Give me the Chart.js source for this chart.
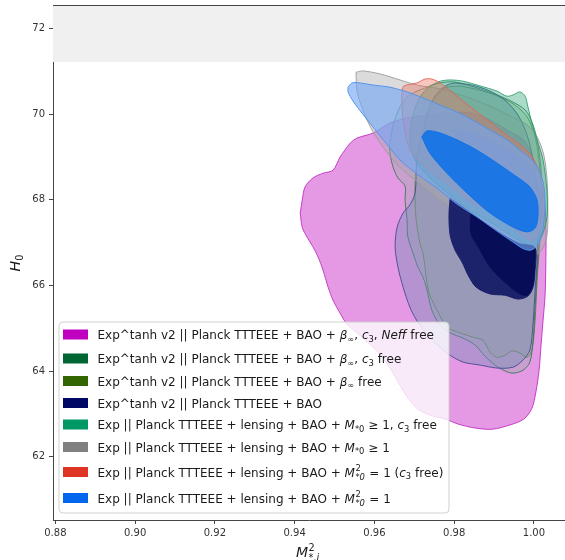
<!DOCTYPE html>
<html>
<head>
<meta charset="utf-8">
<script src="https://cdn.jsdelivr.net/npm/chart.js@4.4.1/dist/chart.umd.min.js"></script>
<style>
html, body { margin: 0; padding: 0; background: #fff; }
canvas { display: block; }
</style>
</head>
<body>
<canvas id="c" width="565" height="560"></canvas>
<script>
// Axis ranges and ticks
const xTicks = [0.88, 0.90, 0.92, 0.94, 0.96, 0.98, 1.00];
const yTicks = [62, 64, 66, 68, 70, 72];
const xRange = [0.8794, 1.0078];
const yRange = [60.52, 72.55];
const bandLow = 71.22;   // lower edge of the shaded H0 band

// Contour outlines as [M*^2, H0] pairs
const tanhNeffOuter = [[0.9414,67.69],[0.9419,67.99],[0.9426,68.30],[0.9446,68.51],[0.9471,68.62],[0.9496,68.69],[0.9514,69.00],[0.9526,69.16],[0.9539,69.32],[0.9556,69.44],[0.9597,69.56],[0.9639,69.79],[0.9682,69.91],[0.9739,69.98],[0.9790,70.03],[0.9840,70.03],[0.9890,69.86],[0.9932,69.63],[0.9973,69.40],[0.9990,69.16],[1.0008,68.69],[1.0023,68.23],[1.0030,67.53],[1.0030,66.59],[1.0028,65.77],[1.0023,65.19],[1.0018,64.61],[1.0013,64.02],[1.0005,63.51],[0.9995,63.13],[0.9975,62.88],[0.9940,62.74],[0.9895,62.64],[0.9852,62.67],[0.9810,62.76],[0.9777,62.88],[0.9739,62.97],[0.9709,63.11],[0.9684,63.37],[0.9664,63.67],[0.9639,64.07],[0.9609,64.44],[0.9569,64.79],[0.9531,65.10],[0.9514,65.35],[0.9496,65.66],[0.9484,65.96],[0.9471,66.36],[0.9459,66.66],[0.9446,66.90],[0.9431,67.13],[0.9419,67.36]];
const tanhBetaOuter = [[0.9815,70.66],[0.9777,70.61],[0.9739,70.21],[0.9722,69.63],[0.9709,69.16],[0.9702,68.39],[0.9704,67.60],[0.9714,66.99],[0.9722,66.75],[0.9732,66.05],[0.9739,65.77],[0.9757,65.42],[0.9782,65.03],[0.9815,64.89],[0.9847,64.79],[0.9872,64.72],[0.9890,64.44],[0.9907,64.32],[0.9928,64.37],[0.9945,64.47],[0.9965,64.42],[0.9983,64.32],[0.9995,64.49],[1.0003,65.19],[1.0008,66.12],[1.0015,67.06],[1.0018,67.99],[1.0015,68.69],[1.0005,69.40],[0.9985,69.91],[0.9953,70.21],[0.9915,70.40],[0.9865,70.56]];
const tanhBetaC3Outer = [[0.9647,69.75],[0.9639,69.32],[0.9639,69.09],[0.9647,68.76],[0.9659,68.51],[0.9677,68.32],[0.9677,67.99],[0.9682,67.53],[0.9684,67.13],[0.9697,66.75],[0.9709,66.43],[0.9722,66.19],[0.9732,65.89],[0.9744,65.42],[0.9765,65.07],[0.9790,64.89],[0.9822,64.77],[0.9852,64.61],[0.9877,64.35],[0.9902,64.14],[0.9928,64.00],[0.9948,63.95],[0.9973,64.02],[0.9990,64.21],[0.9998,64.72],[1.0003,65.49],[1.0008,66.36],[1.0015,67.29],[1.0020,67.99],[1.0018,68.69],[1.0008,69.40],[0.9995,69.82],[0.9978,70.10],[0.9948,70.28],[0.9907,70.45],[0.9852,70.63],[0.9802,70.75],[0.9765,70.73],[0.9727,70.61],[0.9689,70.45],[0.9664,70.17]];
const tanhBaoWide = [[0.9802,70.73],[0.9782,70.68],[0.9760,70.52],[0.9747,70.33],[0.9732,69.93],[0.9719,69.47],[0.9707,68.93],[0.9702,68.16],[0.9689,67.88],[0.9672,67.69],[0.9657,67.36],[0.9652,66.90],[0.9659,66.43],[0.9672,65.96],[0.9689,65.49],[0.9707,65.17],[0.9739,64.79],[0.9782,64.42],[0.9822,64.21],[0.9865,64.14],[0.9907,64.07],[0.9948,64.09],[0.9973,64.26],[0.9990,64.49],[0.9998,65.12],[1.0003,65.89],[1.0008,66.59],[1.0010,67.53],[1.0008,68.23],[0.9998,68.93],[0.9983,69.51],[0.9960,69.98],[0.9927,70.33],[0.9890,70.54],[0.9845,70.68]];
const tanhBaoOuter = [[0.9790,68.04],[0.9787,67.64],[0.9790,67.17],[0.9802,66.83],[0.9820,66.54],[0.9835,66.24],[0.9855,65.96],[0.9890,65.80],[0.9928,65.77],[0.9960,65.68],[0.9985,65.75],[0.9998,65.96],[1.0003,66.36],[1.0005,66.83],[0.9995,66.92],[0.9965,66.97],[0.9928,67.15],[0.9890,67.38],[0.9840,67.71]];
const tanhBaoInner = [[0.9842,67.67],[0.9842,67.22],[0.9865,66.83],[0.9890,66.43],[0.9922,66.12],[0.9958,65.84],[0.9983,65.77],[0.9998,66.05],[1.0003,66.83],[0.9998,66.92],[0.9965,66.97],[0.9928,67.15],[0.9890,67.38]];
const expGeqOuter = [[0.9554,70.98],[0.9571,71.01],[0.9614,70.94],[0.9664,70.80],[0.9707,70.68],[0.9765,70.59],[0.9832,70.40],[0.9890,70.19],[0.9940,69.96],[0.9983,69.75],[1.0008,69.47],[1.0025,69.04],[1.0033,68.46],[1.0035,67.76],[1.0033,67.18],[1.0020,66.83],[0.9998,66.68],[0.9970,66.73],[0.9928,66.97],[0.9877,67.27],[0.9822,67.62],[0.9765,67.99],[0.9709,68.41],[0.9664,68.76],[0.9627,69.16],[0.9594,69.63],[0.9571,70.10],[0.9556,70.56]];
const expGeqInner = [[0.9797,69.67],[0.9852,69.54],[0.9915,69.28],[0.9965,69.00],[0.9998,68.69],[1.0015,68.23],[1.0018,67.64],[1.0005,67.29],[0.9978,67.25],[0.9940,67.48],[0.9902,67.76],[0.9870,68.11],[0.9840,68.58],[0.9815,69.16]];
const expGeqC3Outer = [[0.9739,70.66],[0.9765,70.77],[0.9790,70.80],[0.9822,70.77],[0.9865,70.66],[0.9907,70.54],[0.9932,70.42],[0.9948,70.45],[0.9965,70.52],[0.9978,70.42],[0.9985,70.17],[0.9995,69.79],[1.0008,69.40],[1.0023,68.93],[1.0033,68.16],[1.0033,67.60],[1.0023,67.22],[1.0010,66.99],[0.9990,66.92],[0.9953,67.11],[0.9902,67.41],[0.9840,67.76],[0.9790,68.11],[0.9739,68.51],[0.9702,68.93],[0.9689,69.40],[0.9697,69.98],[0.9714,70.40]];
const expEqC3Outer = [[0.9669,70.56],[0.9674,70.66],[0.9707,70.73],[0.9727,70.82],[0.9744,70.82],[0.9765,70.73],[0.9807,70.42],[0.9847,70.12],[0.9890,69.82],[0.9932,69.51],[0.9970,69.25],[0.9998,68.97],[1.0015,68.58],[1.0023,67.99],[1.0020,67.48],[1.0008,67.13],[0.9990,67.06],[0.9948,67.34],[0.9890,67.71],[0.9840,67.97],[0.9782,68.37],[0.9727,68.76],[0.9689,69.16],[0.9674,69.75],[0.9669,70.21]];
const expEqOuter = [[0.9534,70.63],[0.9544,70.73],[0.9564,70.73],[0.9597,70.68],[0.9639,70.63],[0.9682,70.52],[0.9722,70.38],[0.9765,70.21],[0.9807,70.05],[0.9847,69.86],[0.9890,69.63],[0.9932,69.40],[0.9965,69.16],[0.9998,68.90],[1.0015,68.65],[1.0025,68.32],[1.0028,67.88],[1.0023,67.36],[1.0013,67.01],[0.9995,66.83],[0.9975,66.85],[0.9948,67.01],[0.9907,67.27],[0.9857,67.60],[0.9807,67.90],[0.9757,68.27],[0.9707,68.60],[0.9664,68.93],[0.9639,69.21],[0.9604,69.61],[0.9571,70.00],[0.9546,70.31],[0.9534,70.52]];
const expEqInner = [[0.9719,69.47],[0.9732,69.61],[0.9765,69.56],[0.9807,69.40],[0.9857,69.16],[0.9907,68.86],[0.9958,68.53],[0.9990,68.30],[1.0008,67.99],[1.0010,67.60],[1.0003,67.34],[0.9983,67.25],[0.9948,67.36],[0.9890,67.69],[0.9832,68.16],[0.9782,68.62],[0.9739,69.09]];

// Legend entries (rich text: r = roman, i = italic, sub, sup, ss = stacked sup/sub)
const legendColors = ['#c000c0', '#006633', '#336600', '#000866', '#009966', '#808080', '#e03525', '#0066ee'];
const legendLabels = [
  [['Exp^tanh v2 || Planck TTTEEE + BAO + ', 'r'], ['β', 'i'], ['∞', 'sub'], [', ', 'r'], ['c', 'i'], ['3', 'sub'], [', ', 'r'], ['Neff', 'i'], [' free', 'r']],
  [['Exp^tanh v2 || Planck TTTEEE + BAO + ', 'r'], ['β', 'i'], ['∞', 'sub'], [', ', 'r'], ['c', 'i'], ['3', 'sub'], [' free', 'r']],
  [['Exp^tanh v2 || Planck TTTEEE + BAO + ', 'r'], ['β', 'i'], ['∞', 'sub'], [' free', 'r']],
  [['Exp^tanh v2 || Planck TTTEEE + BAO', 'r']],
  [['Exp || Planck TTTEEE + lensing + BAO + ', 'r'], ['M', 'i'], ['*0', 'sub'], [' ≥ 1, ', 'r'], ['c', 'i'], ['3', 'sub'], [' free', 'r']],
  [['Exp || Planck TTTEEE + lensing + BAO + ', 'r'], ['M', 'i'], ['*0', 'sub'], [' ≥ 1', 'r']],
  [['Exp || Planck TTTEEE + lensing + BAO + ', 'r'], ['M', 'i'], [['2', '*0'], 'ss'], [' = 1 (', 'r'], ['c', 'i'], ['3', 'sub'], [' free)', 'r']],
  [['Exp || Planck TTTEEE + lensing + BAO + ', 'r'], ['M', 'i'], [['2', '*0'], 'ss'], [' = 1', 'r']]
];

// Drawing layers, back to front
const layers = [
  { pts: tanhNeffOuter,   fill: 'rgba(204,51,204,0.5)',   edge: 'rgba(195,55,195,0.95)' },
  { pts: tanhBetaOuter,   fill: 'rgba(120,170,100,0.2)',  edge: 'rgba(85,125,45,0.85)' },
  { pts: tanhBetaC3Outer, fill: 'rgba(110,185,140,0.25)', edge: 'rgba(45,120,80,0.85)' },
  { pts: tanhBaoWide,     fill: 'rgba(110,140,180,0.4)',  edge: 'rgba(60,70,140,0.85)' },
  { pts: expGeqOuter,     fill: 'rgba(170,170,170,0.42)', edge: 'rgba(155,155,155,0.9)' },
  { pts: expGeqC3Outer,   fill: 'rgba(40,160,115,0.38)',  edge: 'rgba(40,160,110,0.9)' },
  { pts: expEqC3Outer,    fill: 'rgba(235,115,95,0.4)',   edge: 'rgba(225,100,90,0.9)' },
  { pts: expGeqInner,     fill: 'rgba(125,125,165,0.4)',  edge: 'rgba(0,0,0,0)' },
  { pts: tanhBaoOuter,    fill: 'rgba(24,30,104,0.96)',   edge: 'rgba(24,30,104,0.96)' },
  { pts: tanhBaoInner,    fill: 'rgba(6,14,86,0.96)',     edge: 'rgba(6,14,86,0.96)' },
  { pts: expEqOuter,      fill: 'rgba(115,168,242,0.64)', edge: 'rgba(80,145,235,0.95)' },
  { pts: expEqInner,      fill: 'rgba(12,112,232,0.86)',  edge: 'rgba(12,112,232,0.9)' }
];

function closed(pts) {
  const d = pts.map(p => ({ x: p[0], y: p[1] }));
  d.push({ x: pts[0][0], y: pts[0][1] });
  return d;
}

const datasets = layers.map((L, i) => ({
  data: closed(L.pts),
  showLine: true,
  fill: 'shape',
  backgroundColor: L.fill,
  borderColor: L.edge,
  borderWidth: 1,
  pointRadius: 0,
  tension: 0.3,
  borderJoinStyle: 'round',
  order: layers.length - i
}));

const FONT = '"DejaVu Sans", "Liberation Sans", sans-serif';

function fontFor(st, base) {
  if (st === 'i') return `italic ${base}px ${FONT}`;
  if (st === 'sub' || st === 'sup') return `${base * 0.7}px ${FONT}`;
  return `${base}px ${FONT}`;
}
function segWidth(ctx, seg, base) {
  const [t, st] = seg;
  if (st === 'ss') {
    ctx.font = `${base * 0.7}px ${FONT}`;
    const a = ctx.measureText(t[0]).width;
    ctx.font = `italic ${base * 0.7}px ${FONT}`;
    const b = ctx.measureText(t[1]).width;
    return Math.max(a, b) + 1;
  }
  ctx.font = fontFor(st, base);
  return ctx.measureText(t).width;
}
function drawRich(ctx, segs, x, y, base) {
  ctx.textBaseline = 'alphabetic';
  ctx.textAlign = 'left';
  for (const seg of segs) {
    const [t, st] = seg;
    if (st === 'ss') {
      ctx.font = `${base * 0.7}px ${FONT}`;
      ctx.fillText(t[0], x + 0.5, y - base * 0.42);
      ctx.font = `italic ${base * 0.7}px ${FONT}`;
      ctx.fillText(t[1], x + 0.5, y + base * 0.25);
      x += segWidth(ctx, seg, base);
      continue;
    }
    ctx.font = fontFor(st, base);
    let dy = 0;
    if (st === 'sub') dy = base * 0.22;
    if (st === 'sup') dy = -base * 0.42;
    ctx.fillText(t, x, y + dy);
    x += ctx.measureText(t).width;
  }
  return x;
}

const decorPlugin = {
  id: 'decor',
  beforeDatasetsDraw(chart) {
    const { ctx, chartArea: a, scales: { y } } = chart;
    const yb = y.getPixelForValue(bandLow);
    ctx.save();
    ctx.fillStyle = '#f0f0f0';
    ctx.fillRect(a.left, a.top, a.right - a.left, yb - a.top);
    ctx.restore();
  },
  afterDraw(chart) {
    const { ctx, chartArea: a } = chart;
    ctx.save();
    // top spine
    ctx.strokeStyle = '#444';
    ctx.lineWidth = 1;
    ctx.beginPath();
    ctx.moveTo(a.left, a.top + 0.5);
    ctx.lineTo(a.right, a.top + 0.5);
    ctx.stroke();

    // legend
    const bx = 59, by = 322, bw = 390, bh = 191, r = 4;
    ctx.beginPath();
    ctx.moveTo(bx + r, by);
    ctx.arcTo(bx + bw, by, bx + bw, by + bh, r);
    ctx.arcTo(bx + bw, by + bh, bx, by + bh, r);
    ctx.arcTo(bx, by + bh, bx, by, r);
    ctx.arcTo(bx, by, bx + bw, by, r);
    ctx.closePath();
    ctx.fillStyle = 'rgba(255,255,255,0.8)';
    ctx.fill();
    ctx.strokeStyle = 'rgba(204,204,204,0.9)';
    ctx.stroke();

    const rowY = [334.5, 358.5, 381, 403, 424.5, 447, 472, 498];
    legendLabels.forEach((segs, i) => {
      const cy = rowY[i];
      ctx.fillStyle = legendColors[i];
      ctx.fillRect(63, cy - 5, 25, 10);
      ctx.fillStyle = '#1a1a1a';
      drawRich(ctx, segs, 97.5, cy + 4.5, 12);
    });

    // axis titles
    ctx.fillStyle = '#1a1a1a';
    ctx.save();
    ctx.translate(20, 263);
    ctx.rotate(-Math.PI / 2);
    ctx.font = `italic 14px ${FONT}`;
    const wH = ctx.measureText('H').width;
    ctx.font = `${14 * 0.7}px ${FONT}`;
    const w0 = ctx.measureText('0').width;
    drawRich(ctx, [['H', 'i'], ['0', 'sub']], -(wH + w0) / 2, 0, 14);
    ctx.restore();

    drawRich(ctx, [['M', 'i'], [['2', '*,i'], 'ss']], 296, 557, 14);
    ctx.restore();
  }
};

new Chart(document.getElementById('c'), {
  type: 'scatter',
  data: { datasets },
  plugins: [decorPlugin],
  options: {
    responsive: false,
    animation: false,
    events: [],
    layout: { padding: { top: 5, right: 0, bottom: 0, left: 0 } },
    plugins: { legend: { display: false }, tooltip: { enabled: false } },
    scales: {
      x: {
        type: 'linear',
        min: xRange[0], max: xRange[1],
        afterFit(s) { s.height = 40; s.paddingLeft = 0; s.paddingRight = 0; },
        afterBuildTicks(s) { s.ticks = xTicks.map(v => ({ value: v })); },
        grid: { display: true, drawOnChartArea: false, drawTicks: true, tickLength: 4, color: '#444' },
        border: { display: true, color: '#444', width: 1 },
        ticks: { color: '#333', font: { family: FONT, size: 10 }, padding: 3, maxRotation: 0, callback: v => v.toFixed(2) }
      },
      y: {
        type: 'linear',
        min: yRange[0], max: yRange[1],
        afterFit(s) { s.width = 53; s.paddingTop = 0; s.paddingBottom = 0; },
        afterBuildTicks(s) { s.ticks = yTicks.map(v => ({ value: v })); },
        grid: { display: true, drawOnChartArea: false, drawTicks: true, tickLength: 4, color: '#444' },
        border: { display: true, color: '#444', width: 1 },
        ticks: { color: '#333', font: { family: FONT, size: 10 }, padding: 4, callback: v => String(v) }
      }
    }
  }
});
</script>
</body>
</html>
